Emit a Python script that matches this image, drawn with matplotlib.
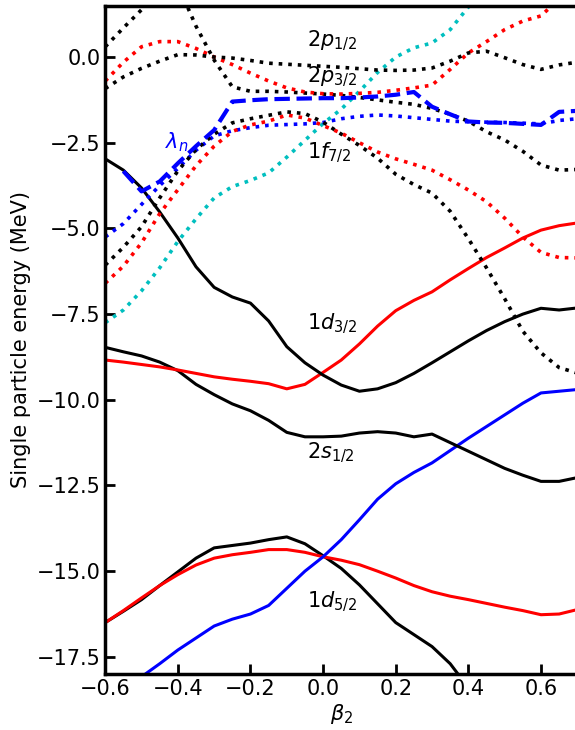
import numpy as np
import matplotlib
matplotlib.use('Agg')
import matplotlib.pyplot as plt

nan = np.nan

# deformation grid
beta = [-0.60, -0.55, -0.50, -0.45, -0.40, -0.35, -0.30, -0.25, -0.20, -0.15,
        -0.10, -0.05, 0.00, 0.05, 0.10, 0.15, 0.20, 0.25, 0.30, 0.35,
        0.40, 0.45, 0.50, 0.55, 0.60, 0.65, 0.70]

# sd-shell levels (MeV)
d52_k = [-16.50, -16.17, -15.83, -15.42, -15.02, -14.62, -14.32, -14.25, -14.18, -14.08,
         -14.00, -14.20, -14.55, -14.92, -15.40, -15.95, -16.50, -16.85, -17.20, -17.70,
         -18.40, -19.00, nan, nan, nan, nan, nan]
d52_r = [-16.50, -16.15, -15.78, -15.42, -15.10, -14.82, -14.62, -14.52, -14.45, -14.37,
         -14.37, -14.45, -14.58, -14.68, -14.81, -15.00, -15.20, -15.42, -15.60, -15.73,
         -15.83, -15.94, -16.05, -16.15, -16.27, -16.25, -16.12]
d52_b = [nan, -18.50, -18.08, -17.70, -17.30, -16.95, -16.60, -16.40, -16.25, -16.00,
         -15.50, -15.00, -14.58, -14.08, -13.50, -12.90, -12.45, -12.12, -11.84, -11.48,
         -11.12, -10.78, -10.44, -10.10, -9.80, -9.75, -9.70]
s12_k = [-8.47, -8.60, -8.72, -8.90, -9.15, -9.55, -9.85, -10.12, -10.32, -10.60,
         -10.95, -11.08, -11.08, -11.06, -10.97, -10.93, -10.97, -11.08, -11.00, -11.25,
         -11.50, -11.75, -12.00, -12.20, -12.38, -12.38, -12.27]
d32_r = [-8.84, -8.90, -8.97, -9.04, -9.13, -9.23, -9.33, -9.40, -9.46, -9.53,
         -9.68, -9.55, -9.20, -8.84, -8.37, -7.85, -7.40, -7.10, -6.85, -6.50,
         -6.17, -5.85, -5.57, -5.28, -5.05, -4.92, -4.84]
d32_k = [-2.97, -3.30, -3.82, -4.52, -5.28, -6.12, -6.72, -7.00, -7.18, -7.70,
         -8.45, -8.92, -9.28, -9.57, -9.75, -9.68, -9.50, -9.23, -8.92, -8.60,
         -8.28, -7.98, -7.72, -7.50, -7.33, -7.38, -7.32]

# fp-shell levels (MeV)
f72_k = [-6.07, -5.55, -4.95, -4.11, -3.32, -2.70, -2.25, -1.92, -1.80, -1.70,
         -1.60, -1.65, -1.90, -2.25, -2.58, -2.95, -3.42, -3.72, -3.97, -4.50,
         -5.30, -6.15, -7.05, -8.00, -8.63, -9.06, -9.22]
f72_r = [-6.60, -6.10, -5.42, -4.57, -3.87, -3.17, -2.60, -2.17, -1.98, -1.87,
         -1.69, -1.78, -2.00, -2.22, -2.50, -2.77, -2.97, -3.13, -3.30, -3.58,
         -3.88, -4.22, -4.70, -5.25, -5.70, -5.85, -5.86]
f72_c = [-7.75, -7.38, -6.82, -6.15, -5.38, -4.72, -4.11, -3.78, -3.60, -3.38,
         -2.92, -2.43, -1.94, -1.52, -1.00, -0.45, 0.00, 0.27, 0.41, 0.80,
         1.46, 2.00, nan, nan, nan, nan, nan]
f72_b = [-5.25, -4.86, -4.30, -3.75, -3.25, -2.72, -2.30, -2.15, -2.06, -1.99,
         -1.97, -1.95, -1.91, -1.80, -1.73, -1.69, -1.72, -1.77, -1.82, -1.87,
         -1.89, -1.90, -1.91, -1.93, -1.95, -1.85, -1.80]
p32_k = [nan, nan, nan, nan, 2.10, 0.90, -0.09, -0.87, -1.00, -1.00,
         -1.02, -1.05, -1.08, -1.12, -1.18, -1.25, -1.32, -1.38, -1.50, -1.67,
         -1.87, -2.18, -2.42, -2.75, -3.15, -3.30, -3.28]
p32_r = [-0.70, -0.15, 0.30, 0.45, 0.45, 0.25, 0.00, -0.22, -0.47, -0.70,
         -0.90, -1.02, -1.07, -1.08, -1.06, -1.03, -0.97, -0.90, -0.82, -0.36,
         0.12, 0.45, 0.80, 1.05, 1.20, 1.70, 2.00]
p12_k = [-0.92, -0.58, -0.33, -0.12, 0.07, 0.06, 0.00, -0.03, -0.10, -0.18,
         -0.21, -0.24, -0.27, -0.30, -0.34, -0.38, -0.39, -0.38, -0.32, -0.12,
         0.12, 0.17, -0.02, -0.22, -0.36, -0.23, -0.15]
f52_k = [0.30, 0.85, 1.38, 1.90, nan, nan, nan, nan, nan, nan,
         nan, nan, nan, nan, nan, nan, nan, nan, nan, nan,
         nan, nan, nan, nan, nan, nan, nan]

# neutron Fermi level
lam_n = [nan, -3.33, -3.92, -3.63, -3.10, -2.60, -2.13, -1.30, -1.26, -1.23,
         -1.22, -1.21, -1.20, -1.20, -1.18, -1.15, -1.10, -1.02, -1.45, -1.67,
         -1.88, -1.91, -1.92, -1.95, -1.98, -1.60, -1.57]

labels = [r'$2p_{1/2}$', r'$2p_{3/2}$', r'$1f_{7/2}$', r'$1d_{3/2}$', r'$2s_{1/2}$', r'$1d_{5/2}$']
label_e = [0.47, -0.58, -2.8, -7.8, -11.55, -15.9]

fig = plt.figure(figsize=(5.75, 7.3), dpi=100)
ax = fig.add_axes([0.183, 0.0767, 0.821, 0.9156])

lw = 2.2
for e, c in [(d52_k, 'k'), (d52_r, 'r'), (d52_b, 'b'),
             (s12_k, 'k'), (d32_r, 'r'), (d32_k, 'k')]:
    ax.plot(beta, e, color=c, lw=lw)

for e, c in [(f72_c, 'c'), (f72_b, 'b'), (f72_r, 'r'), (f72_k, 'k'),
             (p32_k, 'k'), (p32_r, 'r'), (p12_k, 'k'), (f52_k, 'k')]:
    ax.plot(beta, e, color=c, lw=2.6, ls=':')

ax.plot(beta, lam_n, color='b', lw=3, ls='--')

for t, e in zip(labels, label_e):
    ax.text(-0.045, e, t, fontsize=15, ha='left', va='center')
ax.text(-0.435, -2.48, r'$\lambda_n$', fontsize=15, color='b', ha='left', va='center')

ax.set_xlim(-0.6, 0.7)
ax.set_ylim(-18, 1.5)
ax.set_xticks([-0.6, -0.4, -0.2, 0.0, 0.2, 0.4, 0.6])
ax.set_yticks([0.0, -2.5, -5.0, -7.5, -10.0, -12.5, -15.0, -17.5])
ax.tick_params(direction='in', length=7, width=2, labelsize=15)
for s in ax.spines.values():
    s.set_linewidth(2.5)

ax.set_xlabel(r'$\beta_2$', fontsize=15, labelpad=2)
ax.set_ylabel('Single particle energy (MeV)', fontsize=15)

fig.savefig('out.png', dpi=100)
